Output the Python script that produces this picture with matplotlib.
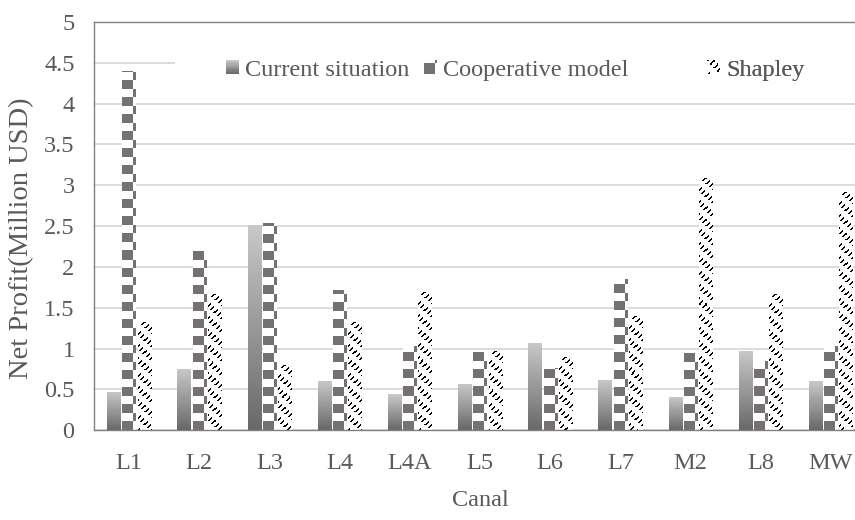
import numpy as np
import matplotlib
matplotlib.use("Agg")
import matplotlib.pyplot as plt
from matplotlib.patches import Rectangle
from matplotlib.legend_handler import HandlerBase
from matplotlib.image import BboxImage
from matplotlib.transforms import Bbox, TransformedBbox

# data
canals = ["L1", "L2", "L3", "L4", "L4A", "L5", "L6", "L7", "M2", "L8", "MW"]
current = [0.47, 0.75, 2.51, 0.60, 0.44, 0.57, 1.07, 0.62, 0.41, 0.97, 0.60]
cooperative = [4.40, 2.19, 2.54, 1.72, 1.03, 0.96, 0.76, 1.85, 0.95, 0.85, 1.03]
shapley = [1.33, 1.67, 0.80, 1.33, 1.69, 0.97, 0.90, 1.40, 3.09, 1.67, 2.92]
series_names = ["Current situation", "Cooperative model", "Shapley"]

plt.rcParams["font.family"] = ["Liberation Serif", "DejaVu Serif"]
text_col = "#595959"
fs = 17.5


# fill textures (pixel arrays, row 0 = top)
def gradient_tex(w, h):
    t = np.linspace(0, 1, max(h, 2))[:, None]
    top = np.array([0.79, 0.79, 0.79])
    bot = np.array([0.41, 0.41, 0.41])
    col = top + (bot - top) * t
    return np.repeat(col[:, None, :], max(w, 1), axis=1)


def checker_tex(w, h):
    yy, xx = np.mgrid[0:max(h, 1), 0:max(w, 1)]
    yb = max(h, 1) - 1 - yy
    on = ((xx // 10) + (yb / 8.5).astype(int)) % 2 == 0
    img = np.ones(on.shape + (3,))
    img[on] = [0x76 / 255, 0x71 / 255, 0x71 / 255]
    return img


def dash_tex(w, h):
    yy, xx = np.mgrid[0:max(h, 1), 0:max(w, 1)]
    on = ((xx + yy) % 6 < 2) & ((xx - yy) % 14 < 7)
    img = np.ones(on.shape + (3,))
    img[on] = [0, 0, 0]
    return img


textures = [gradient_tex, checker_tex, dash_tex]


class HandlerTexture(HandlerBase):
    def __init__(self, fn):
        super().__init__()
        self.fn = fn

    def create_artists(self, legend, orig_handle, xdescent, ydescent,
                       width, height, fontsize, trans):
        bb = Bbox.from_bounds(-xdescent, -ydescent, width, height)
        img = BboxImage(TransformedBbox(bb, trans), interpolation="nearest")
        img.set_data(self.fn(12, 12))
        return [img]


W, H, DPI = 855, 520, 100
fig = plt.figure(figsize=(W / DPI, H / DPI), dpi=DPI)
ax_left, ax_bottom, ax_w, ax_h = 94, 89.7, 772, 408.5
ax = fig.add_axes([ax_left / W, ax_bottom / H, ax_w / W, ax_h / H])

x = np.arange(len(canals))
width = 0.19
offset = 0.217
ax.set_xlim(-0.5, len(canals) - 0.5)
ax.set_ylim(0, 5)
pxx = ax_w / len(canals)
pxy = ax_h / 5.0

all_series = [current, cooperative, shapley]
for k, vals in enumerate(all_series):
    bars = ax.bar(x + (k - 1) * offset, vals, width=width, color="white",
                  edgecolor="none", zorder=2)
    for p in bars:
        x0, bw, bh = p.get_x(), p.get_width(), p.get_height()
        tex = textures[k](int(round(bw * pxx)), int(round(bh * pxy)))
        im = ax.imshow(tex, extent=(x0, x0 + bw, 0, bh), aspect="auto",
                       interpolation="nearest", zorder=2.1)
        im.set_clip_path(p)

ax.set_xlim(-0.5, len(canals) - 0.5)
ax.set_ylim(0, 5)
ax.set_xticks(x)
ax.set_xticklabels(canals)
ax.set_yticks(np.arange(0, 5.01, 0.5))
ax.set_yticklabels(["0", "0.5", "1", "1.5", "2", "2.5", "3", "3.5", "4", "4.5", "5"])
ax.tick_params(axis="both", length=0, labelsize=fs, labelcolor=text_col)
ax.tick_params(axis="y", pad=14)
ax.tick_params(axis="x", pad=16)
ax.yaxis.grid(True, color="#d9d9d9", linewidth=1.3)
ax.set_axisbelow(True)
for s in ax.spines.values():
    s.set_color("#808080")
    s.set_linewidth(1.0)

ax.set_ylabel("Net Profit(Million USD)", fontsize=20.5, color=text_col)
ax.yaxis.set_label_coords(-0.078, 0.47)
ax.set_xlabel("Canal", fontsize=fs, color=text_col, labelpad=12)

# legend area (white box over the grid)
ax.add_patch(Rectangle((0.105, 0.821), 0.95, 0.122, transform=ax.transAxes,
                       facecolor="white", edgecolor="none", zorder=1.5))
leg_x = [0.171, 0.4275, 0.794]
for k in range(3):
    h = Rectangle((0, 0), 1, 1)
    leg = ax.legend([h], [series_names[k]], loc="center left",
                    bbox_to_anchor=(leg_x[k], 0.882), frameon=False,
                    borderpad=0, borderaxespad=0, handlelength=0.5,
                    handleheight=0.5, handletextpad=0.3, fontsize=fs,
                    labelcolor=text_col,
                    handler_map={Rectangle: HandlerTexture(textures[k])})
    ax.add_artist(leg)

fig.savefig("out.png", dpi=DPI)
